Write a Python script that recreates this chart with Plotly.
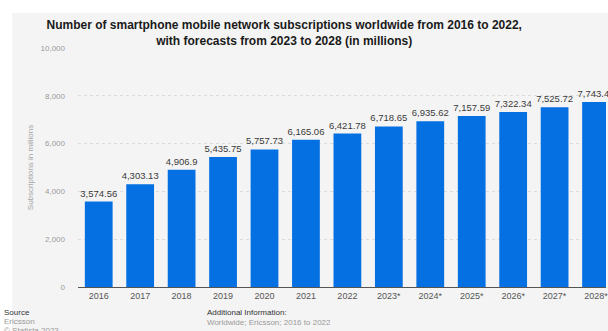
import plotly.graph_objects as go

years = ["2016", "2017", "2018", "2019", "2020", "2021", "2022",
         "2023*", "2024*", "2025*", "2026*", "2027*", "2028*"]
subscriptions = [3574.56, 4303.13, 4906.9, 5435.75, 5757.73, 6165.06, 6421.78,
                 6718.65, 6935.62, 7157.59, 7322.34, 7525.72, 7743.45]
y_ticks = [0, 2000, 4000, 6000, 8000, 10000]
y_tick_labels = ["0", "2,000", "4,000", "6,000", "8,000", "10,000"]

W, H = 608, 331
L, T, B = 78, 48, 44
PW = W - L
PH = H - T - B

def px_x(px):
    return (px - L) / PW

def px_y(py):
    return (H - B - py) / PH

FONT = "Liberation Sans, Arial, sans-serif"

fig = go.Figure()
fig.add_trace(go.Bar(
    x=years, y=subscriptions,
    marker=dict(color="#0570e2", line=dict(width=0)),
    text=subscriptions,
    texttemplate="%{y:,}",
    textposition="outside",
    constraintext="none",
    textfont=dict(family=FONT, size=9.5, color="#3a3a3a"),
    cliponaxis=False,
    hoverinfo="skip",
))

fig.update_layout(
    width=W, height=H,
    margin=dict(l=L, r=0, t=T, b=B, pad=0),
    paper_bgcolor="white",
    plot_bgcolor="rgba(0,0,0,0)",
    bargap=0.33,
    showlegend=False,
    title=dict(
        text="Number of smartphone mobile network subscriptions worldwide from 2016 to 2022,<br>with forecasts from 2023 to 2028 (in millions)",
        font=dict(family=FONT, size=12, color="#1a1a1a", weight="bold"),
        xref="paper", x=px_x(285), xanchor="center",
        yref="container", y=1 - 29 / H, yanchor="middle",
    ),
    xaxis=dict(
        type="category",
        range=[-0.5, 12.24],
        showgrid=False,
        showline=True, linecolor="#555555", linewidth=1,
        ticks="", ticklen=0,
        tickfont=dict(family=FONT, size=9, color="#555555"),
        fixedrange=True,
    ),
    yaxis=dict(
        range=[0, 10000],
        tickvals=y_ticks, ticktext=y_tick_labels,
        showgrid=True, gridcolor="#dcdcdc", gridwidth=1, griddash="dot",
        zeroline=False, showline=False,
        ticks="", ticklabelstandoff=12,
        tickfont=dict(family=FONT, size=8, color="#9a9a9a"),
        title=dict(text="Subscriptions in millions", standoff=5,
                   font=dict(family=FONT, size=8, color="#a5a5a5")),
        fixedrange=True,
    ),
)

fig.add_shape(type="rect", xref="paper", yref="paper", layer="below",
              x0=px_x(12), x1=px_x(W + 10), y0=px_y(H + 10), y1=px_y(13),
              fillcolor="#f4f4f4", line=dict(width=0))

footer = [
    ("Source", 2, 312, "#333333"),
    ("Ericsson", 2, 321, "#9a9a9a"),
    ("© Statista 2023", 2, 330, "#9a9a9a"),
    ("Additional Information:", 205, 312, "#333333"),
    ("Worldwide; Ericsson; 2016 to 2022", 205, 322, "#9a9a9a"),
]
for txt, x, y, col in footer:
    fig.add_annotation(text=txt, xref="paper", yref="paper",
                       x=px_x(x), y=px_y(y), xanchor="left", yanchor="middle",
                       showarrow=False,
                       font=dict(family=FONT, size=8, color=col))

fig.write_html("out.html")
